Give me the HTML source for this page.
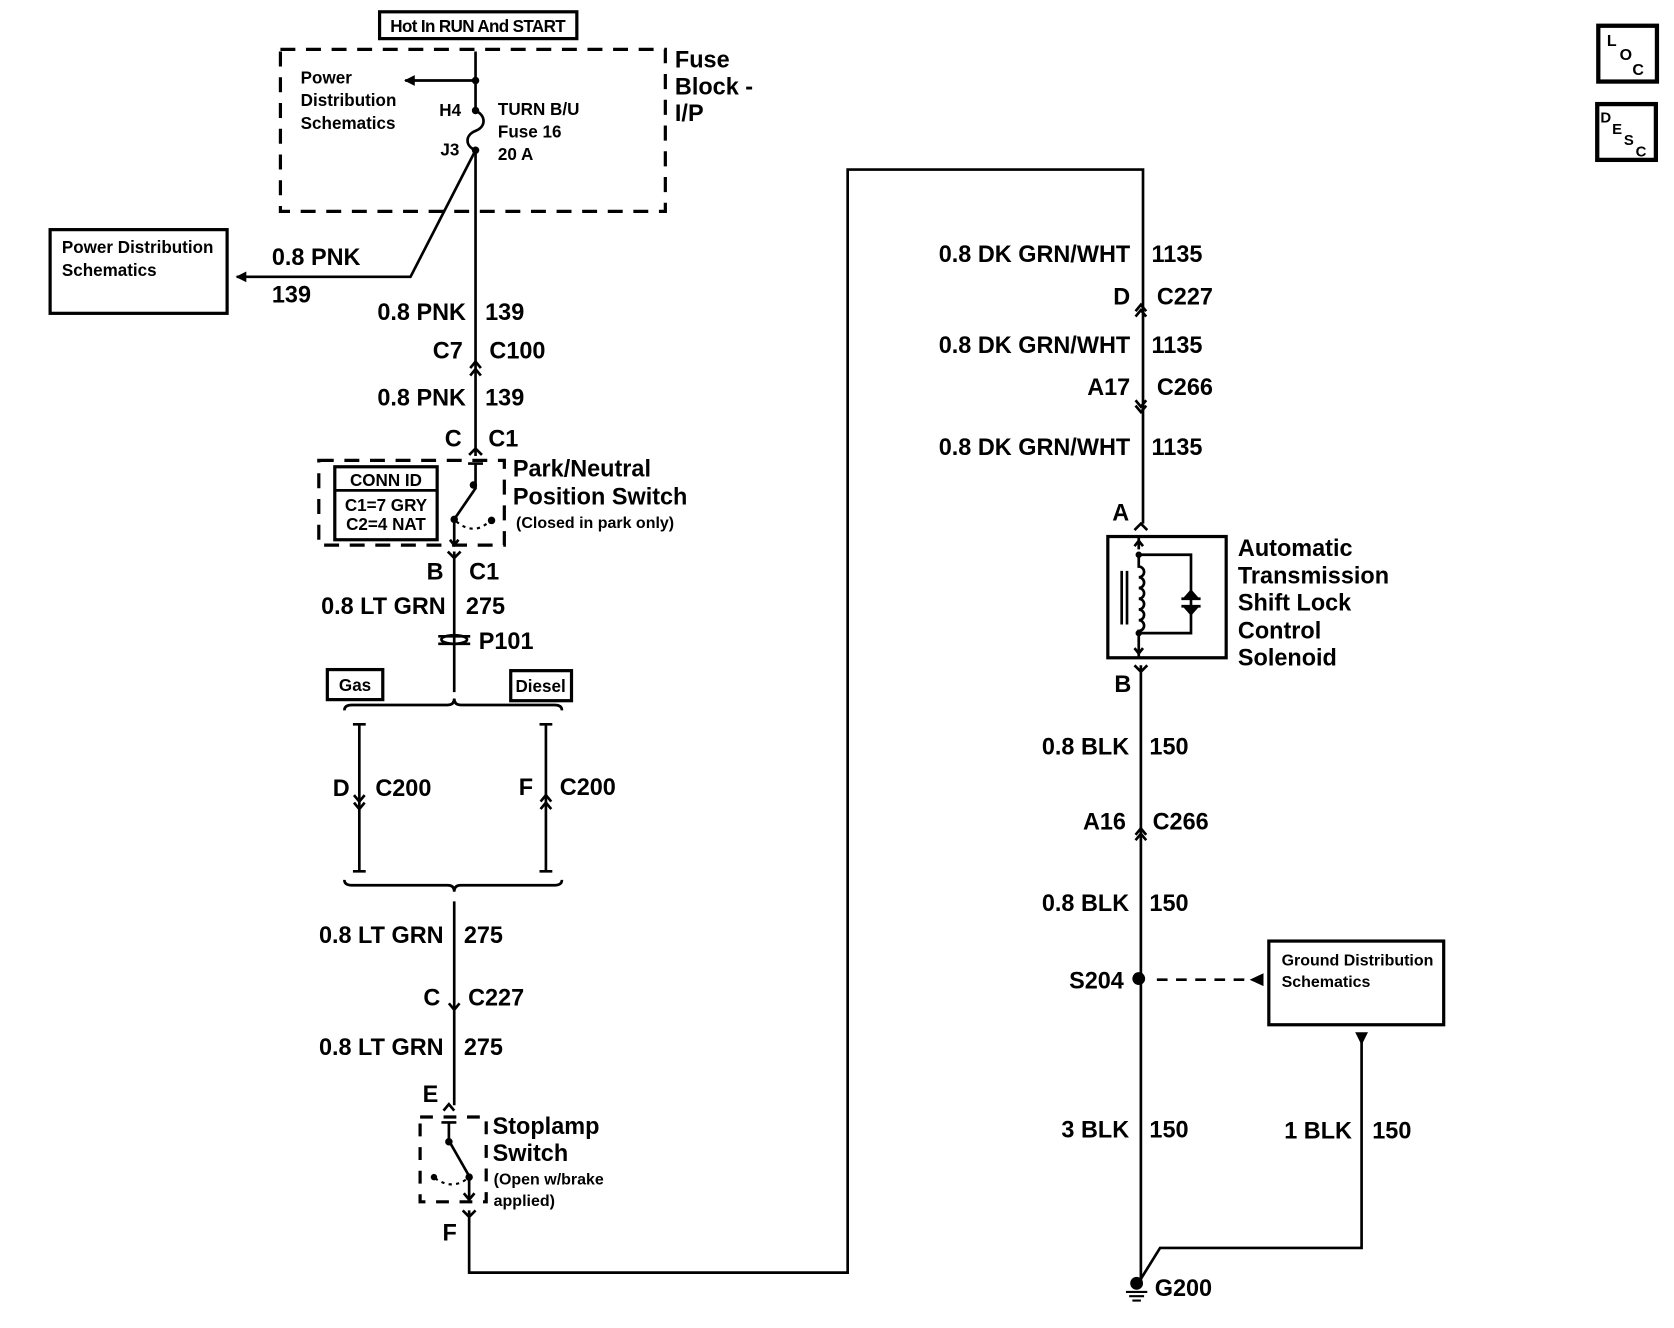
<!DOCTYPE html>
<html><head><meta charset="utf-8">
<style>
html,body{margin:0;padding:0;background:#fff;}
svg{display:block;}
text{font-family:"Liberation Sans",Arial,sans-serif;fill:#000;font-weight:bold;}
.w{font-size:22px;}
.s{font-size:16px;}
.r{text-anchor:end;}
.m{text-anchor:middle;}
</style></head><body>
<svg width="1674" height="1328" viewBox="0 0 1570 1237.6" preserveAspectRatio="none" xmlns="http://www.w3.org/2000/svg">
<defs>
<marker id="ah" markerWidth="10" markerHeight="10" refX="9" refY="5" orient="auto" markerUnits="userSpaceOnUse"><path d="M0,0 L10,5 L0,10 z" fill="#000"/></marker>
</defs>
<g fill="none" stroke="#000" stroke-width="2.5">
<rect x="356" y="11" width="185" height="25" stroke-width="3"/>
<rect x="263" y="46" width="361" height="151" stroke-dasharray="14,10" stroke-width="3"/>
<path d="M446,48 V103 C456,108 456,118 446,122 C436,126 436,136 446,140 V425"/>
<path d="M446,75 H380" marker-end="url(#ah)"/>
<path d="M446,140 L385,258 H222" marker-end="url(#ah)"/>
<rect x="47" y="214" width="166" height="78" stroke-width="3"/>
<path d="M441,343 L446,337 L451,343 M441,350 L446,344 L451,350"/>
<path d="M440,424 L446,418 L452,424"/>
<rect x="299" y="429" width="174" height="79" stroke-dasharray="14,10" stroke-width="3"/>
<rect x="314" y="435" width="96" height="68" stroke-width="3"/>
<path d="M314,457 H410"/>
<path d="M439,432 H453 M446,432 V455 L426,484 V508"/>
<path d="M422,503 L426,508 L430,503"/>
<path d="M428,486 Q445,500 460,485" stroke-dasharray="3,4" stroke-width="2"/>
<path d="M420,514 L426,520 L432,514 M426,514 V645"/>
<path d="M411,593 H441 M411,600 H441"/>
<ellipse cx="426" cy="596" rx="12" ry="4"/>
<rect x="307" y="624" width="52" height="28" stroke-width="3"/>
<rect x="479" y="625" width="57" height="28" stroke-width="3"/>
<path d="M323,662 Q323,657 330,657 H420 Q426,657 426,651 Q426,657 432,657 H520 Q527,657 527,662"/>
<path d="M331,675 H343 M337,675 V812 M331,812 H343 M506,675 H518 M512,675 V812 M506,812 H518"/>
<path d="M332,748 L337,754 L342,748 M332,741 L337,747 L342,741"/>
<path d="M507,747 L512,741 L517,747 M507,754 L512,748 L517,754"/>
<path d="M323,820 Q323,825 330,825 H420 Q426,825 426,831 Q426,825 432,825 H520 Q527,825 527,820"/>
<path d="M426,840 V1030"/>
<path d="M421,935 L426,941 L431,935"/>
<path d="M416,1035 L421,1029 L426,1035"/>
<rect x="394" y="1041" width="62" height="79" stroke-dasharray="12,10" stroke-width="3"/>
<path d="M414,1046 H428 M421,1046 V1063 L440,1096 V1118 M435,1112 L440,1118 L445,1112"/>
<path d="M408,1098 Q425,1110 440,1097" stroke-dasharray="3,4" stroke-width="2"/>
<path d="M434,1128 L440,1134 L446,1128 M440,1128 V1186 H795 V158 H1072 V488"/>
<path d="M1065,295 L1070,289 L1075,295 M1065,290 L1070,284 L1075,290"/>
<path d="M1065,373 L1070,379 L1075,373 M1065,378 L1070,384 L1075,378"/>
<path d="M1064,494 L1070,488 L1076,494"/>
<rect x="1039" y="500" width="111" height="113" stroke-width="3"/>
<path d="M1068,500 V512 M1068,597 V613"/>
<path d="M1064,509 L1068,504 L1072,509 M1064,604 L1068,609 L1072,604"/>
<path d="M1068,517 H1117 V590 H1068"/>
<path d="M1068,517 V528 a5,5 0 0 1 0,10 a5,5 0 0 1 0,10 a5,5 0 0 1 0,10 a5,5 0 0 1 0,10 a5,5 0 0 1 0,10 a5,5 0 0 1 0,10 V598"/>
<path d="M1052,532 V582 M1057,532 V582"/>
<path d="M1108,558 H1126 M1108,565 H1126"/>
<path d="M1064,620 L1070,626 L1076,620 M1070,620 V1195"/>
<path d="M1065,783 L1070,777 L1075,783 M1065,778 L1070,772 L1075,778"/>
<path d="M1085,913 H1172" stroke-dasharray="10,8"/>
<rect x="1190" y="877" width="164" height="78" stroke-width="3"/>
<path d="M1277,970 V1163 H1088 L1068,1195"/>
<path d="M1056,1204 H1076 M1059,1208 H1073 M1062,1212 H1070" stroke-width="2"/>
<rect x="1499" y="24" width="55" height="52" stroke-width="4"/>
<rect x="1498" y="97" width="55" height="52" stroke-width="4"/>
</g>
<g fill="#000">
<circle cx="446" cy="75" r="3.5"/><circle cx="446" cy="103" r="3.5"/><circle cx="446" cy="140" r="3.5"/>
<circle cx="444" cy="452" r="3.5"/><circle cx="426" cy="484" r="3.5"/><circle cx="461" cy="485" r="3.5"/>
<circle cx="421" cy="1064" r="3.5"/><circle cx="440" cy="1097" r="3.5"/><circle cx="407" cy="1097" r="3"/>
<circle cx="1068" cy="517" r="3"/><circle cx="1068" cy="590" r="3"/>
<circle cx="1068" cy="912" r="6"/><circle cx="1066" cy="1196" r="6"/>
<path d="M1172,913 L1185,907 L1185,919 z"/>
<path d="M1271,962 L1283,962 L1277,974 z"/>
<path d="M1110,557 L1124,557 L1117,549 z"/>
<path d="M1110,566 L1124,566 L1117,574 z"/>
</g>
<text x="448" y="30" class="m" style="font-size:16px;letter-spacing:-0.6px">Hot In RUN And START</text>
<text x="282" y="78" class="s">Power</text>
<text x="282" y="99" class="s">Distribution</text>
<text x="282" y="120" class="s">Schematics</text>
<text x="412" y="108" class="s">H4</text>
<text x="413" y="145" class="s">J3</text>
<text x="467" y="107" class="s">TURN B/U</text>
<text x="467" y="128" class="s">Fuse 16</text>
<text x="467" y="149" class="s">20 A</text>
<text x="633" y="63" class="w">Fuse</text>
<text x="633" y="88" class="w">Block -</text>
<text x="633" y="113" class="w">I/P</text>
<text x="58" y="236" class="s">Power Distribution</text>
<text x="58" y="257" class="s">Schematics</text>
<text x="255" y="247" class="w">0.8 PNK</text>
<text x="255" y="282" class="w">139</text>
<text x="437" y="298" class="w r">0.8 PNK</text><text x="455" y="298" class="w">139</text>
<text x="434" y="334" class="w r">C7</text><text x="459" y="334" class="w">C100</text>
<text x="437" y="378" class="w r">0.8 PNK</text><text x="455" y="378" class="w">139</text>
<text x="433" y="416" class="w r">C</text><text x="458" y="416" class="w">C1</text>
<text x="362" y="453" class="s m">CONN ID</text>
<text x="362" y="476" class="s m">C1=7 GRY</text>
<text x="362" y="494" class="s m">C2=4 NAT</text>
<text x="481" y="444" class="w">Park/Neutral</text>
<text x="481" y="470" class="w">Position Switch</text>
<text x="484" y="492" style="font-size:15px">(Closed in park only)</text>
<text x="416" y="540" class="w r">B</text><text x="440" y="540" class="w">C1</text>
<text x="418" y="572" class="w r">0.8 LT GRN</text><text x="437" y="572" class="w">275</text>
<text x="449" y="605" class="w">P101</text>
<text x="333" y="644" class="s m">Gas</text>
<text x="507" y="645" class="s m">Diesel</text>
<text x="328" y="742" class="w r">D</text><text x="352" y="742" class="w">C200</text>
<text x="500" y="741" class="w r">F</text><text x="525" y="741" class="w">C200</text>
<text x="416" y="879" class="w r">0.8 LT GRN</text><text x="435" y="879" class="w">275</text>
<text x="413" y="937" class="w r">C</text><text x="439" y="937" class="w">C227</text>
<text x="416" y="983" class="w r">0.8 LT GRN</text><text x="435" y="983" class="w">275</text>
<text x="411" y="1027" class="w r">E</text>
<text x="462" y="1057" class="w">Stoplamp</text>
<text x="462" y="1082" class="w">Switch</text>
<text x="463" y="1104" style="font-size:15px">(Open w/brake</text>
<text x="463" y="1124" style="font-size:15px">applied)</text>
<text x="415" y="1156" class="w">F</text>
<text x="1060" y="244" class="w r">0.8 DK GRN/WHT</text><text x="1080" y="244" class="w">1135</text>
<text x="1060" y="284" class="w r">D</text><text x="1085" y="284" class="w">C227</text>
<text x="1060" y="329" class="w r">0.8 DK GRN/WHT</text><text x="1080" y="329" class="w">1135</text>
<text x="1060" y="368" class="w r">A17</text><text x="1085" y="368" class="w">C266</text>
<text x="1060" y="424" class="w r">0.8 DK GRN/WHT</text><text x="1080" y="424" class="w">1135</text>
<text x="1059" y="485" class="w r">A</text>
<text x="1161" y="518" class="w">Automatic</text>
<text x="1161" y="544" class="w">Transmission</text>
<text x="1161" y="569" class="w">Shift Lock</text>
<text x="1161" y="595" class="w">Control</text>
<text x="1161" y="620" class="w">Solenoid</text>
<text x="1061" y="645" class="w r">B</text>
<text x="1059" y="703" class="w r">0.8 BLK</text><text x="1078" y="703" class="w">150</text>
<text x="1056" y="773" class="w r">A16</text><text x="1081" y="773" class="w">C266</text>
<text x="1059" y="849" class="w r">0.8 BLK</text><text x="1078" y="849" class="w">150</text>
<text x="1054" y="921" class="w r">S204</text>
<text x="1202" y="900" style="font-size:15px">Ground Distribution</text>
<text x="1202" y="920" style="font-size:15px">Schematics</text>
<text x="1059" y="1060" class="w r">3 BLK</text><text x="1078" y="1060" class="w">150</text>
<text x="1268" y="1061" class="w r">1 BLK</text><text x="1287" y="1061" class="w">150</text>
<text x="1083" y="1208" class="w">G200</text>
<text x="1507" y="43" style="font-size:15px">L</text><text x="1519" y="56" style="font-size:15px">O</text><text x="1531" y="70" style="font-size:15px">C</text>
<text x="1501" y="114" style="font-size:14px">D</text><text x="1512" y="125" style="font-size:14px">E</text><text x="1523" y="135" style="font-size:14px">S</text><text x="1534" y="146" style="font-size:14px">C</text>
</svg>
</body></html>
